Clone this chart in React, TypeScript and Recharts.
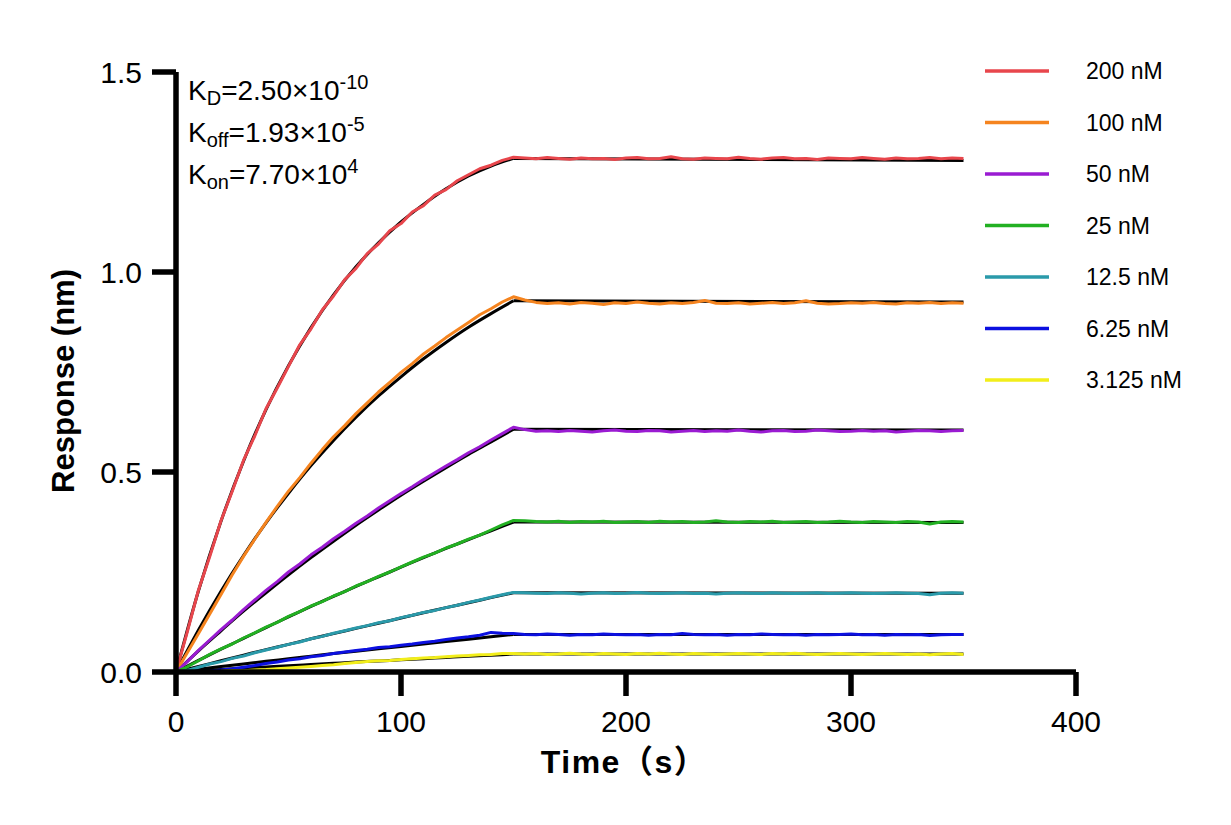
import { LineChart, Line, XAxis, YAxis } from 'recharts';

// measured sampling times (s)
const MEAS_T = [
  0, 5, 10, 15, 20, 25, 30, 35, 40, 45, 50, 55, 60, 65, 70, 75, 80, 85, 90, 95,
  100, 105, 110, 115, 120, 125, 130, 135, 140, 145, 150, 155, 160, 165, 170, 175,
  180, 185, 190, 195, 200, 205, 210, 215, 220, 225, 230, 235, 240, 245, 250, 255,
  260, 265, 270, 275, 280, 285, 290, 295, 300, 305, 310, 315, 320, 325, 330, 335,
  340, 345, 350,
];

// fitted association times (s), dissociation fit runs 150 -> 350
const FIT_T = [0, 10, 20, 30, 40, 50, 60, 70, 80, 90, 100, 110, 120, 130, 140, 150];
const DISS_T = [150, 350];

const NAMES = ['200 nM', '100 nM', '50 nM', '25 nM', '12.5 nM', '6.25 nM', '3.125 nM'];
const COLORS = ['#E8464C', '#F5841F', '#9A1BD2', '#22B022', '#2A9AAA', '#0C10E0', '#F2EE1A'];

const m200 = [
  0, 0.100, 0.205, 0.289, 0.378, 0.452, 0.529, 0.590, 0.658, 0.710,
  0.764, 0.818, 0.858, 0.905, 0.940, 0.981, 1.009, 1.046, 1.070, 1.103,
  1.121, 1.150, 1.166, 1.192, 1.206, 1.228, 1.243, 1.258, 1.267, 1.279,
  1.287, 1.285, 1.283, 1.286, 1.284, 1.282, 1.285, 1.283, 1.284, 1.281,
  1.285, 1.286, 1.283, 1.284, 1.288, 1.283, 1.282, 1.285, 1.284, 1.283,
  1.287, 1.284, 1.282, 1.285, 1.286, 1.283, 1.284, 1.281, 1.285, 1.284,
  1.283, 1.286, 1.284, 1.282, 1.285, 1.283, 1.284, 1.286, 1.283, 1.285,
  1.284,
];
const m100 = [
  0, 0.048, 0.096, 0.145, 0.194, 0.243, 0.289, 0.332, 0.374, 0.414,
  0.452, 0.486, 0.522, 0.556, 0.588, 0.616, 0.646, 0.673, 0.700, 0.724,
  0.749, 0.771, 0.795, 0.815, 0.836, 0.855, 0.874, 0.893, 0.908, 0.925,
  0.938, 0.930, 0.924, 0.921, 0.923, 0.920, 0.924, 0.922, 0.919, 0.923,
  0.921, 0.925, 0.922, 0.920, 0.923, 0.921, 0.924, 0.929, 0.922, 0.921,
  0.923, 0.920, 0.922, 0.924, 0.921, 0.923, 0.928, 0.922, 0.920, 0.921,
  0.923, 0.922, 0.924, 0.921, 0.920, 0.923, 0.922, 0.924, 0.921, 0.923,
  0.922,
];
const m50 = [
  0, 0.026, 0.054, 0.080, 0.106, 0.130, 0.156, 0.180, 0.204, 0.226,
  0.250, 0.270, 0.293, 0.312, 0.333, 0.352, 0.372, 0.390, 0.410, 0.428,
  0.446, 0.463, 0.481, 0.498, 0.515, 0.531, 0.548, 0.563, 0.580, 0.596,
  0.612, 0.606, 0.602, 0.603, 0.601, 0.604, 0.602, 0.600, 0.603, 0.605,
  0.602, 0.601, 0.604, 0.603, 0.600, 0.602, 0.604, 0.601, 0.603, 0.602,
  0.605, 0.602, 0.600, 0.603, 0.604, 0.601, 0.602, 0.605, 0.603, 0.601,
  0.602, 0.604, 0.602, 0.603, 0.600, 0.602, 0.604, 0.603, 0.601, 0.603,
  0.604,
];
const m25 = [
  0, 0.013, 0.028, 0.044, 0.058, 0.070, 0.085, 0.098, 0.112, 0.124,
  0.139, 0.151, 0.165, 0.176, 0.190, 0.201, 0.215, 0.226, 0.239, 0.250,
  0.263, 0.275, 0.287, 0.297, 0.310, 0.320, 0.332, 0.342, 0.355, 0.368,
  0.379, 0.378, 0.376, 0.375, 0.377, 0.374, 0.376, 0.375, 0.377, 0.374,
  0.375, 0.376, 0.374, 0.377, 0.375, 0.376, 0.374, 0.375, 0.378, 0.375,
  0.374, 0.376, 0.375, 0.377, 0.374, 0.375, 0.376, 0.374, 0.375, 0.377,
  0.375, 0.374, 0.376, 0.375, 0.374, 0.376, 0.375, 0.370, 0.375, 0.376,
  0.375,
];
const m12 = [
  0, 0.004, 0.012, 0.020, 0.026, 0.034, 0.040, 0.048, 0.055, 0.062,
  0.069, 0.075, 0.083, 0.089, 0.097, 0.103, 0.110, 0.116, 0.123, 0.128,
  0.136, 0.142, 0.149, 0.154, 0.161, 0.167, 0.174, 0.180, 0.187, 0.193,
  0.199, 0.198, 0.197, 0.196, 0.198, 0.197, 0.195, 0.197, 0.198, 0.196,
  0.197, 0.199, 0.197, 0.196, 0.197, 0.198, 0.196, 0.197, 0.195, 0.197,
  0.198, 0.197, 0.196, 0.198, 0.197, 0.196, 0.197, 0.198, 0.196, 0.197,
  0.198, 0.197, 0.196, 0.197, 0.198, 0.197, 0.196, 0.193, 0.197, 0.198,
  0.197,
];
const m6 = [
  0, 0.001, 0.001, 0.002, 0.005, 0.008, 0.012, 0.016, 0.021, 0.025,
  0.030, 0.033, 0.038, 0.041, 0.046, 0.050, 0.054, 0.057, 0.061, 0.063,
  0.067, 0.070, 0.074, 0.077, 0.081, 0.085, 0.088, 0.092, 0.099, 0.097,
  0.096, 0.094, 0.093, 0.095, 0.094, 0.092, 0.094, 0.093, 0.095, 0.094,
  0.093, 0.094, 0.092, 0.094, 0.093, 0.096, 0.094, 0.093, 0.094, 0.092,
  0.094, 0.093, 0.095, 0.094, 0.093, 0.094, 0.092, 0.094, 0.093, 0.094,
  0.095, 0.093, 0.094, 0.092, 0.094, 0.093, 0.094, 0.091, 0.093, 0.094,
  0.094,
];
const m3 = [
  0, 0.001, 0.001, 0.001, 0.002, 0.004, 0.003, 0.005, 0.006, 0.008,
  0.010, 0.012, 0.014, 0.016, 0.018, 0.021, 0.024, 0.026, 0.028, 0.029,
  0.031, 0.033, 0.035, 0.036, 0.038, 0.040, 0.041, 0.043, 0.044, 0.046,
  0.046, 0.045, 0.046, 0.044, 0.045, 0.047, 0.045, 0.044, 0.046, 0.045,
  0.044, 0.046, 0.045, 0.047, 0.045, 0.044, 0.046, 0.045, 0.044, 0.045,
  0.046, 0.045, 0.044, 0.046, 0.045, 0.047, 0.045, 0.044, 0.045, 0.046,
  0.045, 0.044, 0.045, 0.046, 0.045, 0.044, 0.045, 0.043, 0.045, 0.046,
  0.044,
];

const f200 = [0, 0.203, 0.377, 0.527, 0.656, 0.766, 0.861, 0.943, 1.013, 1.073, 1.125, 1.169, 1.208, 1.240, 1.265, 1.284];
const f100 = [0, 0.105, 0.202, 0.291, 0.373, 0.447, 0.516, 0.579, 0.637, 0.690, 0.738, 0.783, 0.824, 0.862, 0.896, 0.928];
const f50 = [0, 0.053, 0.103, 0.152, 0.198, 0.243, 0.286, 0.327, 0.367, 0.405, 0.442, 0.477, 0.511, 0.544, 0.575, 0.607];
const f25 = [0, 0.029, 0.057, 0.084, 0.111, 0.138, 0.164, 0.189, 0.214, 0.238, 0.262, 0.286, 0.309, 0.331, 0.353, 0.375];
const f12 = [0, 0.014, 0.028, 0.042, 0.056, 0.069, 0.083, 0.096, 0.109, 0.122, 0.135, 0.148, 0.161, 0.173, 0.186, 0.198];
const f6 = [0, 0.0068, 0.0135, 0.020, 0.0267, 0.033, 0.0395, 0.046, 0.052, 0.058, 0.064, 0.070, 0.076, 0.082, 0.088, 0.094];
const f3 = [0, 0.0032, 0.0064, 0.0095, 0.0126, 0.0157, 0.0187, 0.0217, 0.0247, 0.0276, 0.0305, 0.0334, 0.0363, 0.0392, 0.042, 0.0448];
// fitted value at the end of dissociation (t = 350 s)
const FIT_END = [1.279, 0.925, 0.605, 0.374, 0.197, 0.094, 0.045];

const MEASURED = [m200, m100, m50, m25, m12, m6, m3];
const FITS = [f200, f100, f50, f25, f12, f6, f3];

const X_TICKS = [0, 100, 200, 300, 400];
const Y_TICKS = [0, 0.5, 1.0, 1.5];

// kinetic constants shown top-left
const K_SUB = ['D', 'off', 'on'];
const K_MANT = ['2.50', '1.93', '7.70'];
const K_EXP = ['-10', '-5', '4'];

const FONT = "'Liberation Sans', Arial, 'Noto Sans CJK SC', sans-serif";

const W = 1231;
const H = 825;

const App = () => {
  const measured = MEASURED.map((vals) => vals.map((v, i) => ({ t: MEAS_T[i], v })));
  const fitAssoc = FITS.map((vals) => vals.map((v, i) => ({ t: FIT_T[i], v })));
  const fitDiss = FITS.map((vals, k) => [
    { t: DISS_T[0], v: vals[vals.length - 1] },
    { t: DISS_T[1], v: FIT_END[k] },
  ]);

  const axisStyle = { stroke: '#000', strokeWidth: 5.5 };
  const tickStyle = { fill: '#000', fontSize: 30, fontFamily: FONT };

  return (
    <div style={{ position: 'absolute', left: 0, top: 0, width: W, height: H, background: '#fff' }}>
      <LineChart width={W} height={H} margin={{ top: 72, right: 155, bottom: 73, left: 0 }}>
        <XAxis
          type="number"
          dataKey="t"
          domain={[0, 400]}
          ticks={X_TICKS}
          allowDataOverflow
          height={80}
          tickSize={24}
          tickMargin={15}
          axisLine={axisStyle}
          tickLine={axisStyle}
          tick={tickStyle}
        />
        <YAxis
          type="number"
          domain={[0, 1.5]}
          ticks={Y_TICKS}
          allowDataOverflow
          width={176}
          tickSize={24}
          tickMargin={10}
          axisLine={axisStyle}
          tickLine={axisStyle}
          tick={tickStyle}
          tickFormatter={(v: number) => v.toFixed(1)}
        />
        {fitAssoc.map((d, k) => (
          <Line
            key={`fa${k}`}
            data={d}
            dataKey="v"
            type="monotone"
            stroke="#000"
            strokeWidth={3}
            dot={false}
            activeDot={false}
            isAnimationActive={false}
          />
        ))}
        {fitDiss.map((d, k) => (
          <Line
            key={`fd${k}`}
            data={d}
            dataKey="v"
            type="linear"
            stroke="#000"
            strokeWidth={3}
            dot={false}
            activeDot={false}
            isAnimationActive={false}
          />
        ))}
        {measured.map((d, k) => (
          <Line
            key={`m${k}`}
            data={d}
            dataKey="v"
            name={NAMES[k]}
            type="linear"
            stroke={COLORS[k]}
            strokeWidth={3}
            strokeLinejoin="round"
            dot={false}
            activeDot={false}
            isAnimationActive={false}
          />
        ))}
      </LineChart>

      <svg
        width={W}
        height={H}
        style={{ position: 'absolute', left: 0, top: 0, pointerEvents: 'none' }}
        fontFamily={FONT}
      >
        {/* axis titles */}
        <text
          x={63}
          y={381}
          transform="rotate(-90 63 381)"
          textAnchor="middle"
          dominantBaseline="central"
          fontSize={31}
          fontWeight="bold"
          fill="#000"
        >
          Response (nm)
        </text>
        <text
          x={624}
          y={773}
          textAnchor="middle"
          fontSize={32}
          fontWeight="bold"
          letterSpacing={1.5}
          fill="#000"
        >
          Time（s）
        </text>

        {/* kinetics annotation */}
        {K_SUB.map((sub, i) => (
          <text key={sub} x={188} y={100 + i * 42} fontSize={28} fill="#000">
            <tspan>K</tspan>
            <tspan fontSize={20} dy={5}>{sub}</tspan>
            <tspan dy={-5}>={K_MANT[i]}×10</tspan>
            <tspan fontSize={20} dy={-11}>{K_EXP[i]}</tspan>
          </text>
        ))}

        {/* legend */}
        {NAMES.map((name, i) => {
          const y = 71 + i * 51.5;
          return (
            <g key={name}>
              <line x1={985} x2={1049} y1={y} y2={y} stroke={COLORS[i]} strokeWidth={3.5} />
              <text x={1086} y={y + 8} fontSize={23} fill="#000">
                {name}
              </text>
            </g>
          );
        })}
      </svg>
    </div>
  );
};

export default App;
